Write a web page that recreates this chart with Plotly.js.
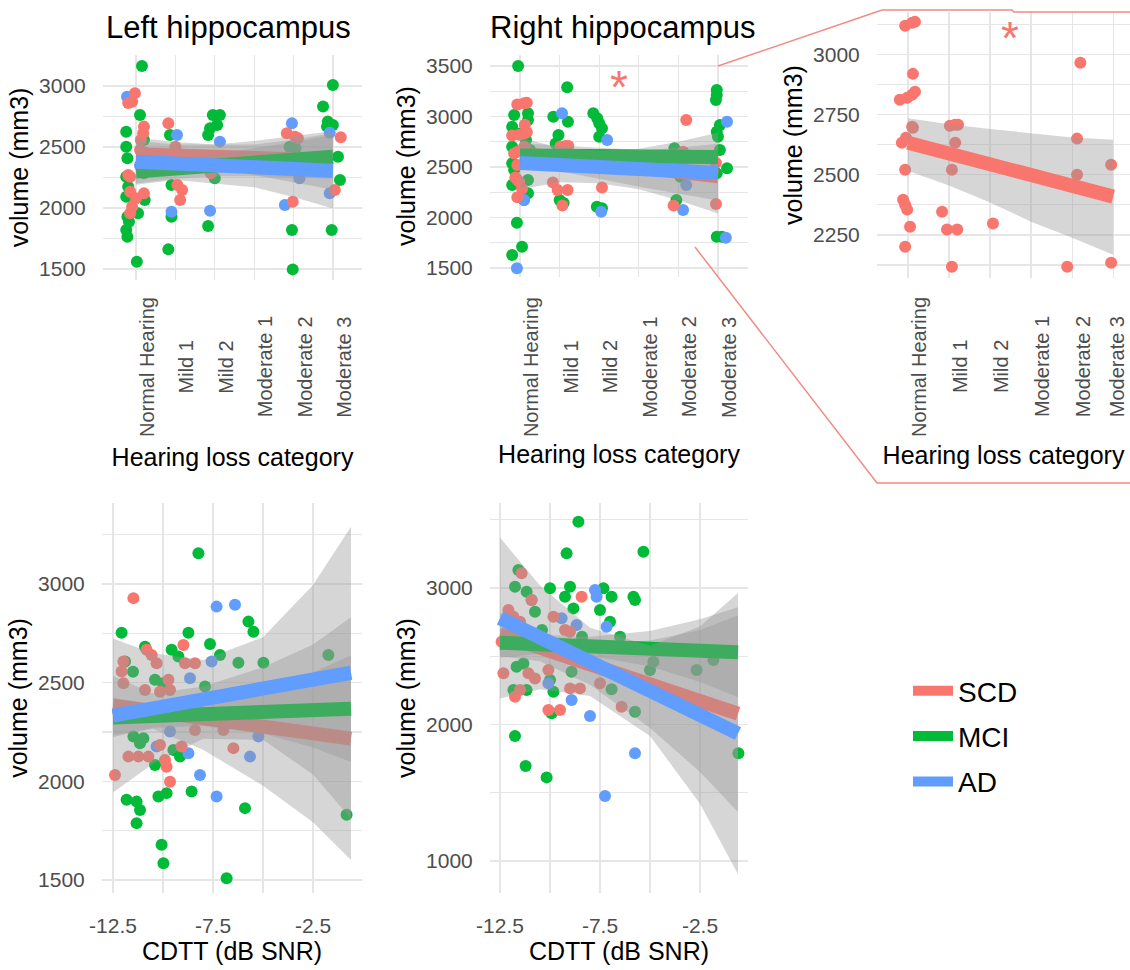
<!DOCTYPE html>
<html><head><meta charset="utf-8">
<script src="https://cdn.plot.ly/plotly-3.0.1.min.js"></script>
<style>html,body{margin:0;padding:0;background:#fff;overflow:hidden}#chart{width:1130px;height:970px}</style>
</head><body><div id="chart"></div>
<script>
// ---------- categories / groups ----------
const categories = ['Normal Hearing','Mild 1','Mild 2','Moderate 1','Moderate 2','Moderate 3'];
const categoryPos = [1,2,3,4,5,6];
const groupNames = ['SCD','MCI','AD'];
const cdttTickVals = [-12.5, -7.5, -2.5];
const cdttTickText = ['-12.5', '-7.5', '-2.5'];

// ---------- Panel 1: Left hippocampus vs hearing loss category (jittered x) ----------
const leftCatSCDx = [0.90,0.97,0.80,1.20,1.18,1.12,1.10,1.15,1.12,0.80,0.85,0.85,1.00,1.20,0.90,0.85, 1.82,2.00,2.05,1.98,2.05,2.17,2.12, 2.90, 4.83,5.04,5.11,4.98, 6.20,6.05];
const leftCatSCDy = [2871,2940,2861,2667,2612,2557,2475,2421,2339,2270,2257,2134,2080,2120,2011,1957, 2694,2503,2421,2366,2188,2148,2066, 2285, 2612,2585,2571,2052, 2579,2148];
const leftCatMCIx = [1.15,1.10,0.75,0.75,0.78,0.75,0.80,0.75,0.78,0.82,0.75,0.78,1.05,1.02,1.20,1.25,1.20,1.22, 1.86,1.90,1.90,1.82, 2.95,3.13,3.06,2.88,2.83,3.00,2.83, 4.90,5.05,4.96,4.98, 6.00,5.75,5.87,6.00,5.85,6.13,6.18,5.97];
const leftCatMCIy = [3164,2762,2625,2502,2407,2257,2175,2093,1929,1888,1820,1765,1957,1560,2557,2448,2285,2066, 2598,2188,1929,1661, 2762,2762,2680,2653,2598,2243,1852, 2500,2490,1820,1497, 3008,2831,2708,2680,2667,2421,2230,1820];
const leftCatADx = [0.77,1.10, 2.04,1.90, 3.13,2.88, 4.96,5.15,4.78, 5.92,5.92];
const leftCatADy = [2912,2350, 2598,1970, 2544,1978, 2694,2243,2025, 2616,2121];

// ---------- Panel 2/3: Right hippocampus vs hearing loss category ----------
const rightCatSCDx = [0.93,1.10,1.17,1.12,0.80,0.98,1.10,1.17,1.10,1.12,0.85,0.95,0.93,0.88,0.93,0.98,1.05,0.93, 2.02,2.15,2.22,2.15,2.07,1.83,1.95,2.20,2.07, 3.07, 5.20,5.12,5.12,4.88, 5.95,5.95];
const rightCatSCDy = [3119,3131,3135,2919,2811,2820,2832,2845,2699,2695,2633,2654,2521,2396,2375,2355,2284,2201, 2703,2708,2708,2633,2521,2346,2272,2272,2118, 2297, 2965,2650,2500,2118, 2541,2134];
const rightCatMCIx = [0.95,0.85,1.20,1.20,0.80,1.00,1.15,0.80,1.25,0.80,1.15,0.85,1.20,0.80,1.20,1.10,0.92,1.05,0.80, 2.19,1.84,2.21,1.97,1.90,2.00,2.10, 2.85,2.95,3.00,3.07,3.00,2.94,3.07, 4.90,5.05,4.95, 5.97,5.97,5.95,6.05,5.97,6.00,6.05,6.23,5.97,5.97,6.10];
const rightCatMCIy = [3500,3015,3032,2966,2899,2833,2767,2701,2668,2537,2602,2470,2371,2322,2240,2173,1949,1711,1629, 3289,2998,2949,2817,2733,2173,2144, 3032,2982,2933,2883,2800,2107,2091, 2685,2404,2173, 3262,3213,3163,2916,2850,2800,2668,2487,2437,1810,1810];
const rightCatADx = [0.92,1.10, 2.06, 3.20,3.05, 5.12,5.20, 6.23,6.20];
const rightCatADy = [1497,2173, 3032, 2767,2058, 2074,2322, 2949,1800];

// ---------- Panel 4: Left hippocampus vs CDTT ----------
const leftCdttSCDx = [-11.48,-8.98,-10.82,-10.57,-10.32,-11.98,-8.90,-8.40,-12.07,-11.98,-10.90,-9.73,-10.15,-9.65,-8.40,-6.98,-11.73,-11.23,-10.73,-10.15,-9.07,-9.90,-9.82,-9.65,-6.48,-12.40];
const leftCdttSCDy = [2928,2691,2666,2640,2598,2607,2598,2598,2556,2497,2463,2514,2454,2463,2260,2260,2125,2125,2125,2184,2176,2108,2074,1998,2168,2032];
const leftCdttMCIx = [-8.23,-12.07,-8.73,-5.73,-5.48,-7.65,-10.90,-9.57,-9.23,-7.15,-6.23,-4.98,-1.73,-11.90,-11.50,-10.40,-10.00,-7.90,-11.48,-10.98,-11.15,-10.40,-9.48,-9.15,-8.57,-10.23,-9.82,-11.82,-11.32,-11.15,-11.32,-5.90,-0.82,-10.07,-9.98,-6.82];
const leftCdttMCIy = [3155,2753,2753,2809,2758,2696,2682,2666,2632,2640,2601,2601,2640,2607,2555,2514,2497,2480,2227,2218,2193,2083,2159,2125,1948,1923,1940,1906,1897,1855,1788,1864,1830,1678,1585,1509];
const leftCdttADx = [-7.32,-6.40,-7.57,-8.65,-9.65,-5.23,-10.32,-8.73,-5.65,-8.15,-7.32];
const leftCdttADy = [2885,2894,2607,2522,2252,2227,2176,2142,2125,2032,1923];

// ---------- Panel 5: Right hippocampus vs CDTT ----------
const rightCdttSCDx = [-11.42,-10.92,-8.42,-12.08,-11.83,-11.50,-9.83,-9.25,-9.00,-12.42,-12.33,-11.08,-10.75,-10.08,-7.50,-11.75,-11.50,-9.00,-8.50,-10.08,-9.50,-6.42];
const rightCdttSCDy = [3108,2912,2936,2839,2790,2753,2790,2692,2680,2607,2375,2375,2338,2399,2302,2204,2253,2265,2265,2106,2106,2130];
const rightCdttMCIx = [-8.58,-9.17,-5.33,-11.58,-11.75,-10.00,-9.00,-9.25,-8.83,-11.17,-10.92,-10.75,-7.33,-6.92,-7.50,-7.00,-5.83,-5.75,-6.50,-10.40,-8.40,-4.83,-5.00,-2.67,-1.83,-11.67,-11.33,-10.00,-8.92,-6.92,-11.83,-11.17,-9.83,-9.92,-5.75,-0.58,-11.75,-11.22,-10.17];
const rightCdttMCIy = [3486,3254,3266,3132,3010,2998,3010,2936,2851,2973,2912,2826,2998,2936,2839,2753,2936,2912,2643,2692,2643,2460,2399,2399,2473,2423,2448,2326,2387,2258,2253,2253,2240,2082,2094,1789,1916,1696,1613];
const rightCdttADx = [-7.75,-7.67,-9.42,-8.67,-7.17,-10.08,-8.92,-8.00,-5.75,-7.25];
const rightCdttADy = [2985,2936,2778,2729,2717,2302,2180,2062,1789,1476];

// ---------- fitted lines (ends) ----------
const catFitX = [1, 6];
const leftCatFit = {SCD:[2440,2390], MCI:[2300,2420], AD:[2380,2305]};
const rightCatFit = {SCD:[2633,2409], MCI:[2615,2600], AD:[2540,2440]};
const cdttFitX = [-12.5, -0.6];
const leftCdttFit = {SCD:[2383,2216], MCI:[2323,2368], AD:[2333,2550]};
const rightCdttFit = {SCD:[2660,2080], MCI:[2600,2530], AD:[2780,1934]};

// ---------- confidence bands (lower / upper) ----------
const catBandX = [1,2,3,4,5,6];
const leftCatSCDlo = [2330,2340,2320,2270,2210,2150];
const leftCatSCDhi = [2550,2520,2520,2550,2590,2630];
const leftCatMCIlo = [2200,2240,2260,2260,2250,2240];
const leftCatMCIhi = [2400,2410,2440,2490,2540,2600];
const leftCatADlo  = [2190,2230,2200,2170,2090,1995];
const leftCatADhi  = [2575,2540,2520,2520,2560,2615];
const rightCatSCDlo = [2515,2455,2385,2305,2238,2168];
const rightCatSCDhi = [2735,2710,2690,2672,2655,2645];
const rightCatMCIlo = [2540,2560,2565,2550,2515,2470];
const rightCatMCIhi = [2690,2665,2655,2660,2690,2730];
const rightCatADlo  = [2280,2350,2340,2280,2170,2040];
const rightCatADhi  = [2790,2690,2660,2680,2750,2840];
const cdttBandX = [-12.5,-10.5,-8,-5,-2.5,-0.6];
const leftCdttSCDlo = [2233,2265,2160,1978,1793,1601];
const leftCdttSCDhi = [2533,2445,2480,2578,2693,2831];
const leftCdttMCIlo = [2223,2271,2280,2241,2171,2098];
const leftCdttMCIhi = [2423,2391,2400,2461,2551,2638];
const leftCdttADlo  = [1943,2089,2215,2210,2035,1810];
const leftCdttADhi  = [2723,2649,2615,2730,2995,3290];
const rightCdttSCDlo = [2500,2463,2291,1975,1653,1360];
const rightCdttSCDhi = [2820,2663,2591,2615,2693,2800];
const rightCdttMCIlo = [2490,2518,2504,2426,2311,2200];
const rightCdttMCIhi = [2710,2658,2644,2686,2771,2860];
const rightCdttADlo  = [2190,2258,2210,1917,1419,904];
const rightCdttADhi  = [3370,3018,2710,2577,2719,2964];

// ---------- styling ----------
const COLORS = {SCD:'#F8766D', MCI:'#00BA38', AD:'#619CFF'};
const RIBBON = 'rgba(153,153,153,0.4)';
const FONT = 'Liberation Sans, Arial, sans-serif';
const GRID = '#e6e6e6';

const traces = [];
function addPanel(ax, pts, fitX, fits, bandX, bands, groups, legend) {
  const xa = 'x' + ax, ya = 'y' + ax;
  ['MCI','AD','SCD'].forEach(g => {
    if (!pts[g]) return;
    traces.push({type:'scatter', mode:'markers', x:pts[g][0], y:pts[g][1], xaxis:xa, yaxis:ya,
      marker:{size:12, color:COLORS[g], line:{width:0}}, showlegend:false, hoverinfo:'skip', cliponaxis:true});
  });
  groups.forEach(g => {
    const lo = bands[g][0], hi = bands[g][1];
    traces.push({type:'scatter', mode:'lines', x:bandX.concat(bandX.slice().reverse()),
      y:hi.concat(lo.slice().reverse()), fill:'toself', fillcolor:RIBBON, line:{width:0, color:'rgba(0,0,0,0)'},
      xaxis:xa, yaxis:ya, showlegend:false, hoverinfo:'skip'});
    traces.push({type:'scatter', mode:'lines', x:fitX, y:fits[g], xaxis:xa, yaxis:ya,
      line:{color:COLORS[g], width:14}, name:g, legendgroup:g, showlegend:legend, hoverinfo:'skip'});
  });
}

addPanel('', {SCD:[leftCatSCDx,leftCatSCDy], MCI:[leftCatMCIx,leftCatMCIy], AD:[leftCatADx,leftCatADy]},
  catFitX, leftCatFit, catBandX,
  {SCD:[leftCatSCDlo,leftCatSCDhi], MCI:[leftCatMCIlo,leftCatMCIhi], AD:[leftCatADlo,leftCatADhi]}, groupNames, true);
addPanel('2', {SCD:[rightCatSCDx,rightCatSCDy], MCI:[rightCatMCIx,rightCatMCIy], AD:[rightCatADx,rightCatADy]},
  catFitX, rightCatFit, catBandX,
  {SCD:[rightCatSCDlo,rightCatSCDhi], MCI:[rightCatMCIlo,rightCatMCIhi], AD:[rightCatADlo,rightCatADhi]}, groupNames, false);
addPanel('3', {SCD:[rightCatSCDx,rightCatSCDy]},
  catFitX, rightCatFit, catBandX, {SCD:[rightCatSCDlo,rightCatSCDhi]}, ['SCD'], false);
addPanel('4', {SCD:[leftCdttSCDx,leftCdttSCDy], MCI:[leftCdttMCIx,leftCdttMCIy], AD:[leftCdttADx,leftCdttADy]},
  cdttFitX, leftCdttFit, cdttBandX,
  {SCD:[leftCdttSCDlo,leftCdttSCDhi], MCI:[leftCdttMCIlo,leftCdttMCIhi], AD:[leftCdttADlo,leftCdttADhi]}, groupNames, false);
addPanel('5', {SCD:[rightCdttSCDx,rightCdttSCDy], MCI:[rightCdttMCIx,rightCdttMCIy], AD:[rightCdttADx,rightCdttADy]},
  cdttFitX, rightCdttFit, cdttBandX,
  {SCD:[rightCdttSCDlo,rightCdttSCDhi], MCI:[rightCdttMCIlo,rightCdttMCIhi], AD:[rightCdttADlo,rightCdttADhi]}, groupNames, false);

// ---------- axes ----------
const W = 1130, H = 970;
const px = v => v / W, py = v => 1 - v / H;
const tickFont = {family:FONT, size:21, color:'#4d4d4d'};
const catFont = {family:FONT, size:20, color:'#4d4d4d'};
const titleFont = {family:FONT, size:25, color:'#000'};

function catX(x0, x1, range, anchor, standoff) {
  return {domain:[px(x0), px(x1)], range:range, anchor:anchor, tickmode:'array', tickvals:categoryPos,
    showticklabels:false, ticks:'', showgrid:true, gridcolor:GRID, gridwidth:1.3, zeroline:false, showline:false,
    title:{text:'Hearing loss category', font:titleFont, standoff:standoff}};
}
function numY(y0, y1, range, anchor, dtick, minor) {
  return {domain:[py(y1), py(y0)], range:range, anchor:anchor, tickmode:'linear', tick0:0, dtick:dtick,
    minor:{dtick:minor, tick0:0, showgrid:true, gridcolor:GRID, gridwidth:1.3},
    ticks:'outside', ticklen:12, tickcolor:'rgba(0,0,0,0)', tickfont:tickFont,
    showgrid:true, gridcolor:GRID, gridwidth:1.3, zeroline:false, showline:false,
    title:{text:'volume (mm3)', font:titleFont, standoff:3}};
}
function cdttX(x0, x1, range, anchor) {
  return {domain:[px(x0), px(x1)], range:range, anchor:anchor, tickmode:'array', tickvals:cdttTickVals, ticktext:cdttTickText,
    minor:{dtick:2.5, tick0:-12.5, showgrid:true, gridcolor:GRID, gridwidth:1.3},
    ticks:'outside', ticklen:14, tickcolor:'rgba(0,0,0,0)', tickfont:tickFont,
    showgrid:true, gridcolor:GRID, gridwidth:1.3, zeroline:false, showline:false,
    title:{text:'CDTT (dB SNR)', font:titleFont, standoff:4}};
}

const annotations = [];
function catLabels(xa, lastShift) {
  categories.forEach((c, i) => annotations.push({xref:xa, yref:'paper', x:categoryPos[i], y:py(367),
    text:c, textangle:-90, showarrow:false, xshift:(i === categories.length - 1 && lastShift !== undefined) ? lastShift : 11,
    font:catFont, xanchor:'center', yanchor:'middle'}));
}
catLabels('x'); catLabels('x2'); catLabels('x3', 4);
annotations.push({xref:'paper', yref:'paper', x:px(228), y:py(27), text:'Left hippocampus', showarrow:false,
  font:{family:FONT, size:31, color:'#000'}, xanchor:'center', yanchor:'middle'});
annotations.push({xref:'paper', yref:'paper', x:px(622), y:py(27), text:'Right hippocampus', showarrow:false,
  font:{family:FONT, size:31, color:'#000'}, xanchor:'center', yanchor:'middle'});
annotations.push({xref:'paper', yref:'paper', x:px(619), y:py(87), text:'*', showarrow:false,
  font:{family:FONT, size:46, color:'#F8766D'}, xanchor:'center', yanchor:'middle'});
annotations.push({xref:'paper', yref:'paper', x:px(1010), y:py(38), text:'*', showarrow:false,
  font:{family:FONT, size:46, color:'#F8766D'}, xanchor:'center', yanchor:'middle'});

const zoomLine = {color:'#F28A82', width:1.5};
const shapes = [
  {type:'path', xref:'paper', yref:'paper', line:zoomLine,
   path:`M ${px(718)} ${py(66)} L ${px(882)} ${py(10)} L ${px(1012)} ${py(10)} L ${px(1014)} ${py(12)} L ${px(1130)} ${py(12)}`},
  {type:'path', xref:'paper', yref:'paper', line:zoomLine,
   path:`M ${px(695)} ${py(247)} L ${px(877)} ${py(483)} L ${px(1130)} ${py(483)}`}
];

const layout = {
  width:W, height:H, margin:{l:0, r:0, t:0, b:0}, paper_bgcolor:'#fff', plot_bgcolor:'#fff',
  font:{family:FONT, color:'#000'},
  xaxis: catX(103, 362, [0.16, 6.74], 'y', 168),
  yaxis: numY(55, 280, [1410, 3254], 'x', 500, 250),
  xaxis2: catX(490, 748, [0.24, 6.76], 'y2', 168),
  yaxis2: numY(55, 277, [1411, 3609], 'x2', 500, 250),
  xaxis3: catX(877, 1130, [0.244, 6.41], 'y3', 168),
  yaxis3: numY(12, 278, [2071, 3176], 'x3', 250, 125),
  xaxis4: cdttX(102, 362, [-13.05, -0.05], 'y4'),
  yaxis4: numY(503, 893, [1434, 3410], 'x4', 500, 250),
  xaxis5: cdttX(490, 748, [-13.0, -0.1], 'y5'),
  yaxis5: numY(503, 893, [766, 3623], 'x5', 1000, 500),
  showlegend:true,
  legend:{x:px(908), y:py(666), xanchor:'left', yanchor:'top', font:{family:FONT, size:28, color:'#000'},
    bgcolor:'rgba(0,0,0,0)', tracegroupgap:6, itemwidth:40, traceorder:'grouped'},
  annotations:annotations, shapes:shapes
};

Plotly.newPlot('chart', traces, layout, {staticPlot:true, displayModeBar:false});
</script>
</body></html>
